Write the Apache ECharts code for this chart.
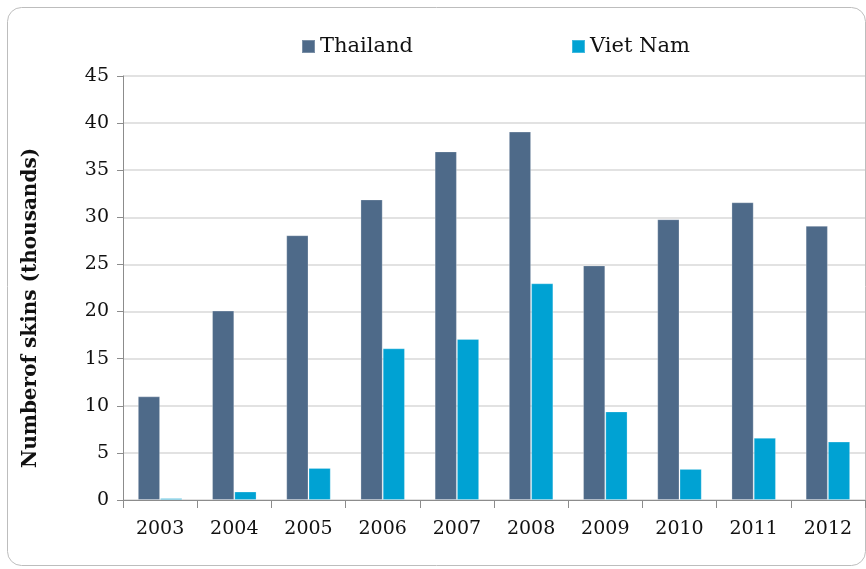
<!DOCTYPE html>
<html><head><meta charset="utf-8">
<script src="https://cdn.jsdelivr.net/npm/echarts@6/dist/echarts.min.js"></script>
<style>html,body{margin:0;padding:0;background:#fff}#c{width:866px;height:569px}</style>
</head><body><div id="c"></div>
<script>
var years = ['2003','2004','2005','2006','2007','2008','2009','2010','2011','2012'];
var thailand = [11.0, 20.1, 28.1, 31.9, 37.0, 39.1, 24.9, 29.8, 31.6, 29.1];
var vietnam = [0.2, 0.9, 3.4, 16.1, 17.1, 23.0, 9.4, 3.3, 6.6, 6.2];
var yTicks = {min: 0, max: 45, interval: 5};

var chart = echarts.init(document.getElementById('c'));
var font = 'DejaVu Serif';
chart.setOption({
  animation: false,
  graphic: [{
    type: 'rect', shape: {x: 7.5, y: 7.5, width: 858, height: 558, r: 14},
    style: {fill: 'none', stroke: '#BDBDBD', lineWidth: 1}, z: -1
  }],
  legend: {
    top: 31, left: 296, itemWidth: 13, itemHeight: 13, itemGap: 158,
    icon: 'rect',
    textStyle: {fontFamily: font, fontSize: 21, color: '#111'},
    data: ['Thailand', 'Viet Nam']
  },
  grid: {left: 123, right: 1, top: 76, bottom: 69, containLabel: false},
  xAxis: {
    type: 'category', data: years,
    axisLine: {lineStyle: {color: '#8C8C8C', width: 1}},
    axisTick: {show: true, length: 8, alignWithLabel: false, lineStyle: {color: '#8C8C8C'}},
    axisLabel: {fontFamily: font, fontSize: 19, color: '#111', margin: 20}
  },
  yAxis: {
    type: 'value', min: yTicks.min, max: yTicks.max, interval: yTicks.interval,
    name: 'Numberof skins (thousands)', nameLocation: 'middle', nameGap: 82,
    nameTextStyle: {fontFamily: font, fontSize: 20, fontWeight: 'bold', color: '#111', padding: [0, 40, 0, 0]},
    axisLine: {show: true, lineStyle: {color: '#8C8C8C', width: 1}},
    axisTick: {show: true, length: 6, lineStyle: {color: '#8C8C8C'}},
    axisLabel: {fontFamily: font, fontSize: 19, color: '#111', margin: 14},
    splitLine: {lineStyle: {color: '#D9D9D9', width: 1.5}}
  },
  series: [{
    name: 'Thailand', type: 'bar', data: thailand, barGap: '0%', barCategoryGap: '40%',
    itemStyle: {color: '#4E6A89', borderColor: 'rgba(255,255,255,0.25)', borderWidth: 1}
  }, {
    name: 'Viet Nam', type: 'bar', data: vietnam,
    itemStyle: {color: '#00A2D3', borderColor: 'rgba(255,255,255,0.25)', borderWidth: 1}
  }]
});
</script></body></html>
